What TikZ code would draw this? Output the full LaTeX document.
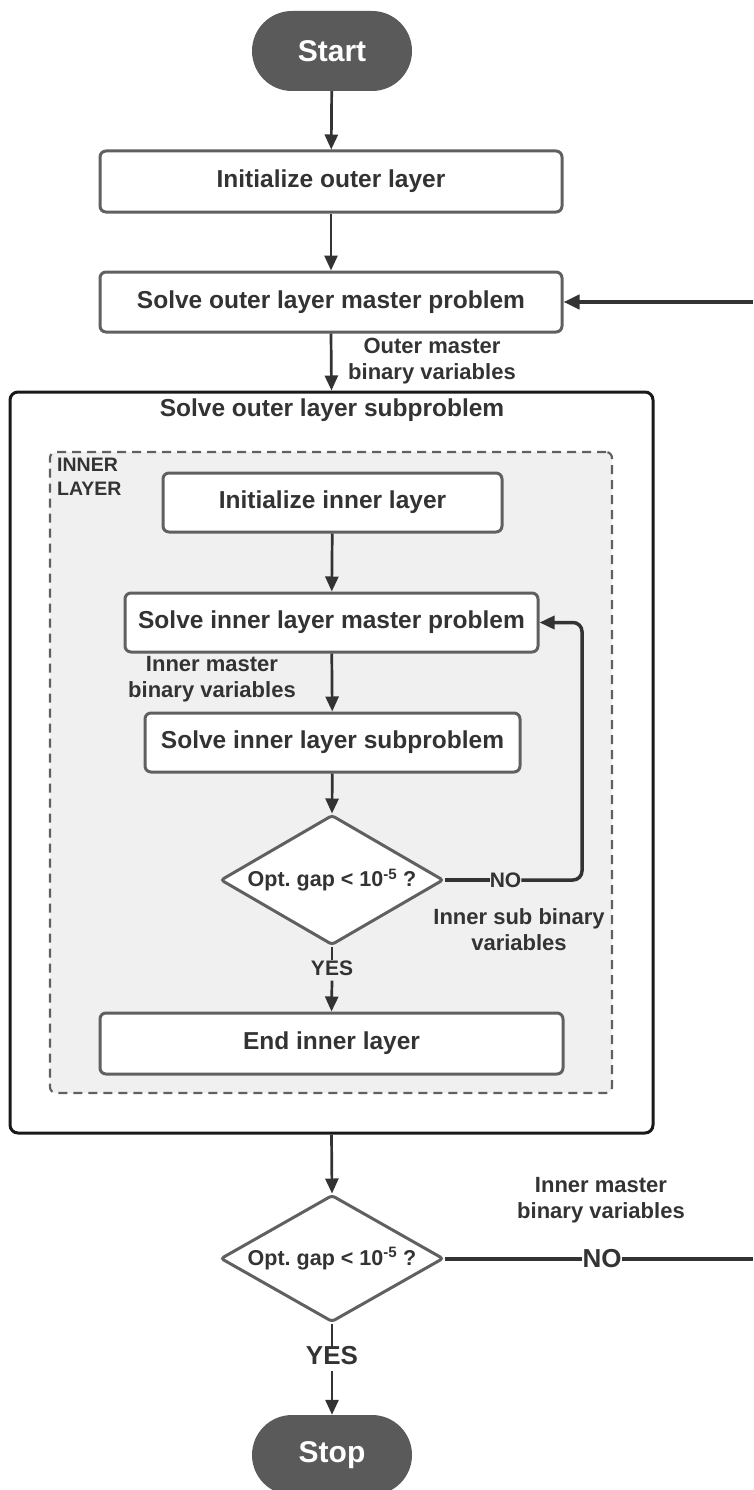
\documentclass[tikz,border=0pt]{standalone}
\usepackage{fontspec}
\setmainfont{Liberation Sans}
\usetikzlibrary{arrows.meta,shapes.geometric}
\definecolor{boxgray}{HTML}{606060}
\definecolor{ink}{HTML}{333333}
\definecolor{termfill}{HTML}{5A5A5A}
\definecolor{innerfill}{HTML}{F0F0F0}
\frenchspacing
\begin{document}
\begin{tikzpicture}[x=1pt,y=-1pt,
  proc/.style={draw=boxgray, line width=3pt, rounded corners=6pt, fill=white, text=ink,
    font=\fontsize{24.5}{28}\selectfont\bfseries, inner sep=0pt},
  term/.style={fill=termfill, rounded corners=40pt, text=white,
    font=\fontsize{30}{34}\selectfont\bfseries, minimum width=160pt, minimum height=80pt, inner sep=0pt},
  dec/.style={diamond, shape aspect=1.715, draw=boxgray, line width=3pt, fill=white, text=ink,
    font=\fontsize{21.5}{24}\selectfont\bfseries, minimum width=223pt, minimum height=130pt,
    inner sep=0pt, rounded corners=3pt},
  lbl/.style={text=ink, font=\fontsize{22}{26}\selectfont\bfseries, align=center, inner sep=0pt},
  arr/.style={draw=ink, line width=2.7pt, -{Triangle[length=15pt,width=13pt]}},
  heavy/.style={draw=ink, line width=4pt},
  onl/.style={text=ink, inner sep=0pt, font=\fontsize{21}{25}\selectfont\bfseries},
  bigl/.style={text=ink, inner sep=0pt, font=\fontsize{26}{30}\selectfont\bfseries}
]
\useasboundingbox (0,0) rectangle (753,1490);

% outer subproblem box and inner layer
\node[draw=black!90, line width=3pt, rounded corners=8pt, minimum width=643pt, minimum height=741pt, inner sep=0pt] (outer) at (331.5,762.5) {};
\node[text=ink, font=\fontsize{24.5}{28}\selectfont\bfseries, inner sep=0pt] (otitle) at (332,410) {Solve outer layer subproblem};
\node[draw=boxgray, fill=innerfill, line width=2.2pt, dash pattern=on 9pt off 6pt, rounded corners=6pt, minimum width=562pt, minimum height=641pt, inner sep=0pt] (inner) at (331,772.5) {};
\node[text=ink, font=\fontsize{19.5}{24}\selectfont\bfseries, align=left, anchor=north west, inner sep=0pt] (ilabel) at (57,458) {INNER\\LAYER};

% main nodes
\node[term] (start) at (332,51) {Start};
\node[proc, minimum width=462pt, minimum height=61pt] (initout) at (331,181.5) {Initialize outer layer};
\node[proc, minimum width=462pt, minimum height=60pt] (master) at (331,302) {Solve outer layer master problem};

\node[proc, minimum width=339pt, minimum height=59pt] (initin) at (332.5,502.5) {Initialize inner layer};
\node[proc, minimum width=413pt, minimum height=59pt] (imaster) at (331.5,622.5) {Solve inner layer master problem};
\node[proc, minimum width=375pt, minimum height=59pt] (isub) at (332.5,742.5) {Solve inner layer subproblem};
\node[dec] (idec) at (332,880) {Opt. gap < 10\textsuperscript{-5} ?};
\node[proc, minimum width=463pt, minimum height=61pt] (endin) at (331.5,1043.5) {End inner layer};

\node[dec, minimum height=127pt] (odec) at (332,1258.5) {Opt. gap < 10\textsuperscript{-5} ?};
\node[term] (stop) at (332,1455) {Stop};

% labels
\node[lbl] (lom) at (432,361) {Outer master\\binary variables};
\node[lbl] (lim) at (212,679) {Inner master\\binary variables};
\node[lbl] (lis) at (519,930) {Inner sub binary\\variables};
\node[lbl] (lob) at (601,1200) {Inner master\\binary variables};
\node[onl] (ino) at (505.5,880) {NO};
\node[onl] (iyes) at (332,968) {YES};
\node[bigl] (ono) at (602,1258.5) {NO};
\node[bigl] (oyes) at (332,1356) {YES};

% helper coordinates
\coordinate (loopA) at (582,880);
\coordinate (loopB) at (582,622.5);
\coordinate (edgeA) at (753,302);
\coordinate (edgeB) at (753,1258.5);

% connectors
\draw[arr] (start) -- (initout);
\draw[arr] (initout) -- (master);
\draw[arr] (master.south) -- (outer.north);
\draw[arr] (initin) -- (imaster);
\draw[arr] (imaster) -- (isub);
\draw[arr] (isub) -- (idec.north);
\draw[draw=ink, line width=3.5pt] (idec.east) -- (ino.west);
\draw[arr, line width=3.5pt, rounded corners=9pt] (ino.east) -- (loopA) -- (loopB) -- (imaster.east);
\draw[draw=ink, line width=2.7pt] (idec.south) -- (iyes.north);
\draw[arr] ([yshift=-5pt]iyes.south) -- (endin.north);
\draw[arr] (outer.south) -- (odec.north);
\draw[heavy] (odec.east) -- (ono.west);
\draw[heavy] (ono.east) -- (edgeB);
\draw[heavy, -{Triangle[length=16pt,width=14pt]}] (edgeA) -- (master.east);
\draw[draw=ink, line width=2.7pt] (odec.south) -- (oyes.north);
\draw[arr] ([yshift=-6pt]oyes.south) -- (stop.north);
\end{tikzpicture}
\end{document}
